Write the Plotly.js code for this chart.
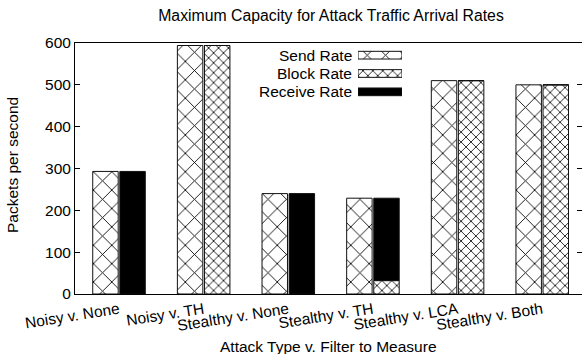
<!DOCTYPE html>
<html>
<head>
<meta charset="utf-8">
<script src="https://cdn.plot.ly/plotly-3.0.1.min.js"></script>
<style>html,body{margin:0;padding:0;background:#fff}#chart{width:582px;height:354px}</style>
</head>
<body>
<div id="chart"></div>
<script>
const categories = ["Noisy v. None", "Noisy v. TH", "Stealthy v. None", "Stealthy v. TH", "Stealthy v. LCA", "Stealthy v. Both"];
const sendRate = [293, 594, 240, 229, 510, 500];
const blockRate = [0, 594, 0, 32, 510, 500];
const receiveRate = [293, 0, 240, 197, 0, 0];
const seriesNames = ["Send Rate", "Block Rate", "Receive Rate"];
const yTicks = [0, 100, 200, 300, 400, 500, 600];
const xTitle = "Attack Type v. Filter to Measure";
const yTitle = "Packets per second";

const idx = categories.map((c, i) => i);
const receiveBase = blockRate.slice();
const FONT = "Liberation Sans, Arial, Helvetica, sans-serif";
const FS = 15.5;
const lineStyle = {color: "#111", width: 1};
const sendPattern = {shape: "x", size: 13, solidity: 0.13, fgcolor: "#000", bgcolor: "#fff", fillmode: "replace"};
const blockPattern = {shape: "x", size: 7, solidity: 0.22, fgcolor: "#000", bgcolor: "#fff", fillmode: "replace"};

const traces = [
  {type: "bar", name: seriesNames[0], x: idx, y: sendRate, offsetgroup: "a",
   marker: {color: "#fff", pattern: sendPattern, line: lineStyle}},
  {type: "bar", name: seriesNames[1], x: idx, y: blockRate, offsetgroup: "b",
   marker: {color: "#fff", pattern: blockPattern, line: lineStyle}},
  {type: "bar", name: seriesNames[2], x: idx, y: receiveRate, base: receiveBase, offsetgroup: "b",
   marker: {color: "#000", line: lineStyle}},
  // legend samples
  {type: "bar", orientation: "h", x: [1], y: [0], base: [0], width: 0.42, xaxis: "x2", yaxis: "y2",
   marker: {color: "#fff", pattern: sendPattern, line: lineStyle}},
  {type: "bar", orientation: "h", x: [1], y: [1], base: [0], width: 0.42, xaxis: "x2", yaxis: "y2",
   marker: {color: "#fff", pattern: blockPattern, line: lineStyle}},
  {type: "bar", orientation: "h", x: [1], y: [2], base: [0], width: 0.42, xaxis: "x2", yaxis: "y2",
   marker: {color: "#000", line: lineStyle}}
];

const L = 75, R = 582, T = 43, B = 294;
const px2x = p => (p - L) / (R - L);
const py2y = p => (B - p) / (B - T);

const annotations = seriesNames.map((n, i) => ({
  text: n, xref: "paper", yref: "y2", x: px2x(354), y: i, xanchor: "right", yanchor: "middle",
  showarrow: false, font: {size: FS, family: FONT}
}));
annotations.push({text: xTitle, xref: "paper", yref: "paper", x: px2x(328), y: py2y(346),
  xanchor: "center", yanchor: "middle", showarrow: false, font: {size: FS, family: FONT}});
annotations.push({text: yTitle, xref: "paper", yref: "paper", x: px2x(12), y: py2y(165),
  xanchor: "center", yanchor: "middle", textangle: -90, showarrow: false, font: {size: FS, family: FONT}});

const layout = {
  width: 582, height: 354,
  margin: {l: L, r: 582 - R, t: T, b: 354 - B},
  paper_bgcolor: "#fff", plot_bgcolor: "#fff",
  font: {family: FONT, size: FS, color: "#000"},
  showlegend: false,
  barmode: "group",
  bargap: 0.36,
  bargroupgap: 0.06,
  title: {text: "Maximum Capacity for Attack Traffic Arrival Rates", font: {size: 15.8, family: FONT},
          x: px2x(331), xref: "paper", y: 0.955, yref: "container", xanchor: "center", yanchor: "middle"},
  xaxis: {
    range: [-0.52, 5.47], tickmode: "array", tickvals: idx, ticktext: categories,
    tickangle: -9, ticks: "", showgrid: false, zeroline: false,
    showline: true, linecolor: "#000", linewidth: 1, mirror: true,
    tickfont: {size: FS, family: FONT}
  },
  yaxis: {
    range: [0, 600], tickmode: "array", tickvals: yTicks, ticktext: yTicks.map(String),
    ticks: "inside", ticklen: 5, tickcolor: "#000", showgrid: false, zeroline: false,
    showline: true, linecolor: "#000", linewidth: 1, mirror: "ticks",
    tickfont: {size: FS, family: FONT}
  },
  xaxis2: {domain: [px2x(358), px2x(402)], range: [0, 1], visible: false, anchor: "y2", fixedrange: true},
  yaxis2: {domain: [py2y(101), py2y(46)], range: [2.5, -0.5], visible: false, anchor: "x2", fixedrange: true},
  annotations: annotations
};

Plotly.newPlot("chart", traces, layout, {staticPlot: true, displayModeBar: false});
</script>
</body>
</html>
